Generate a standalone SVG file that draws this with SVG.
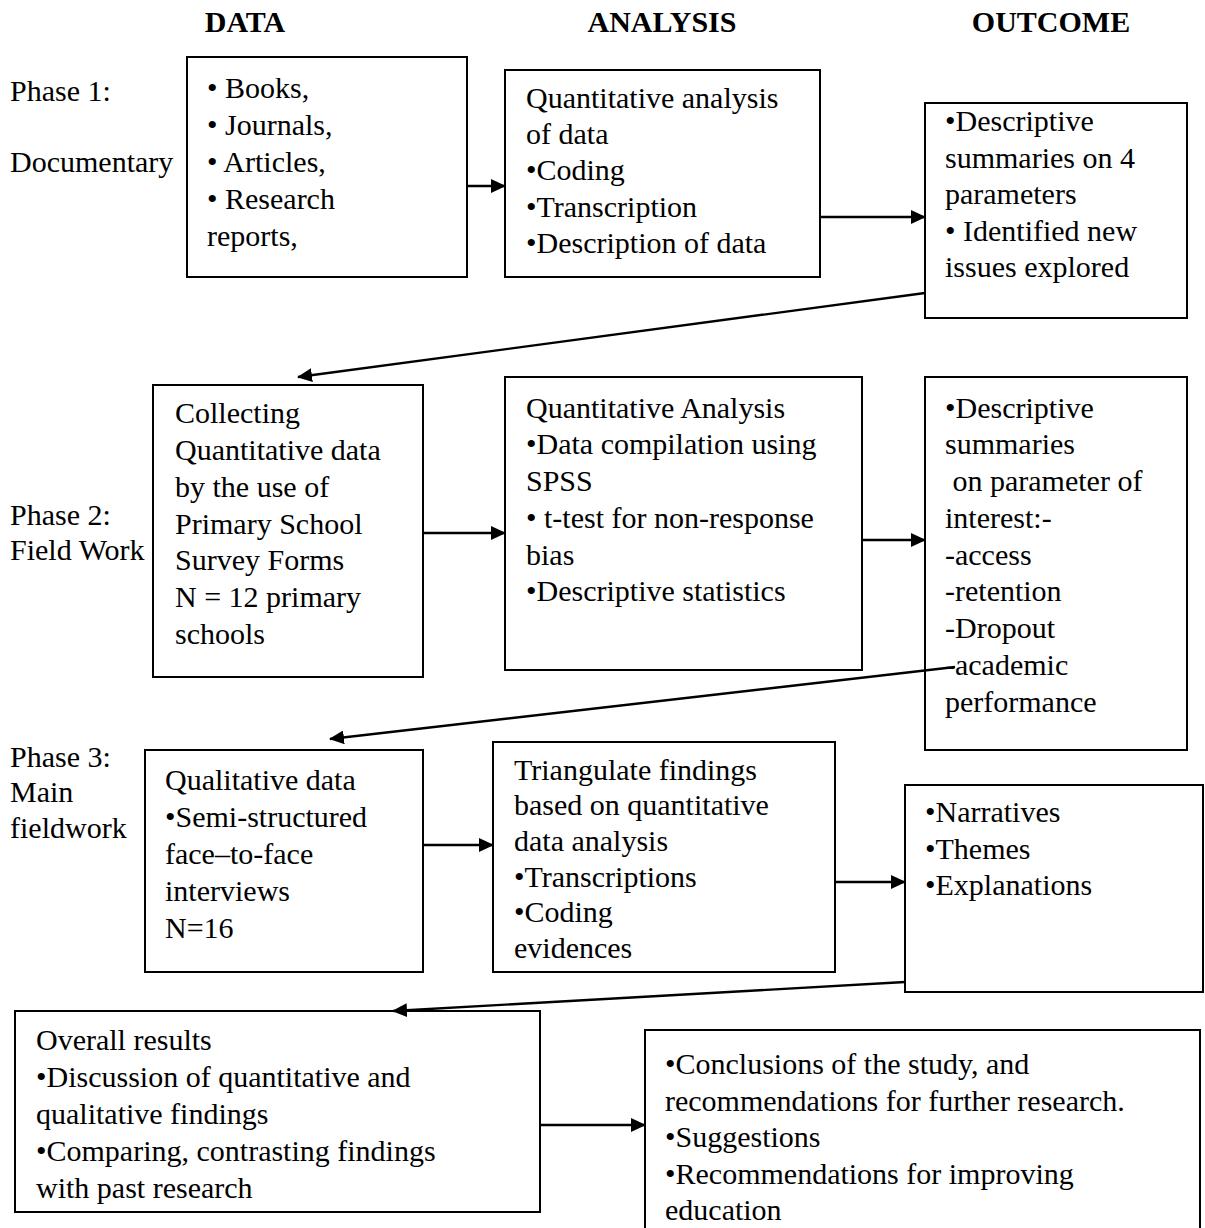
<svg xmlns="http://www.w3.org/2000/svg" width="1205" height="1228" viewBox="0 0 1205 1228">
<defs>
<style>
text{font-family:"Liberation Serif","Times New Roman",serif;font-size:30px;fill:#000}
.h{font-weight:bold;text-anchor:middle}
.box{fill:#fff;stroke:#000;stroke-width:2}
.c{fill:none;stroke:#000;stroke-width:2.4}
</style>
<marker id="ah" markerWidth="15" markerHeight="14" refX="14" refY="7" orient="auto" markerUnits="userSpaceOnUse" viewBox="0 0 15 14">
<path d="M0,0 L15,7 L0,14 z" fill="#000"/>
</marker>
</defs>
<rect width="1205" height="1228" fill="#fff"/>
<g id="headers">
<text class="h" x="245" y="32">DATA</text>
<text class="h" x="662" y="32">ANALYSIS</text>
<text class="h" x="1051" y="32">OUTCOME</text>
</g>
<g id="phase-labels">
<text x="10" y="101">Phase 1:</text>
<text x="10" y="172">Documentary</text>
<text x="10" y="525">Phase 2:</text>
<text x="10" y="560">Field Work</text>
<text x="10" y="767">Phase 3:</text>
<text x="10" y="802">Main</text>
<text x="10" y="838">fieldwork</text>
</g>
<g id="n1">
<rect class="box" x="187" y="57" width="280" height="220"/>
<text x="207" y="98">• Books,</text>
<text x="207" y="135">• Journals,</text>
<text x="207" y="172">• Articles,</text>
<text x="207" y="209">• Research</text>
<text x="207" y="246">reports,</text>
</g>
<g id="n2">
<rect class="box" x="505" y="70" width="315" height="207"/>
<text x="526" y="108">Quantitative analysis</text>
<text x="526" y="144">of data</text>
<text x="526" y="180">•Coding</text>
<text x="526" y="217">•Transcription</text>
<text x="526" y="253">•Description of data</text>
</g>
<g id="n3">
<rect class="box" x="925" y="103" width="262" height="215"/>
<text x="945" y="131">•Descriptive</text>
<text x="945" y="168">summaries on 4</text>
<text x="945" y="204">parameters</text>
<text x="945" y="241">• Identified new</text>
<text x="945" y="277">issues explored</text>
</g>
<g id="n4">
<rect class="box" x="153" y="385" width="270" height="292"/>
<text x="175" y="423">Collecting</text>
<text x="175" y="460">Quantitative data</text>
<text x="175" y="497">by the use of</text>
<text x="175" y="534">Primary School</text>
<text x="175" y="570">Survey Forms</text>
<text x="175" y="607">N = 12 primary</text>
<text x="175" y="644">schools</text>
</g>
<g id="n5">
<rect class="box" x="505" y="377" width="357" height="293"/>
<text x="526" y="418">Quantitative Analysis</text>
<text x="526" y="454">•Data compilation using</text>
<text x="526" y="491">SPSS</text>
<text x="526" y="528">• t-test for non-response</text>
<text x="526" y="565">bias</text>
<text x="526" y="601">•Descriptive statistics</text>
</g>
<g id="n6">
<rect class="box" x="925" y="377" width="262" height="373"/>
<text x="945" y="418">•Descriptive</text>
<text x="945" y="454">summaries</text>
<text x="945" y="491" xml:space="preserve"> on parameter of</text>
<text x="945" y="528">interest:-</text>
<text x="945" y="565">-access</text>
<text x="945" y="601">-retention</text>
<text x="945" y="638">-Dropout</text>
<text x="945" y="675">-academic</text>
<text x="945" y="712">performance</text>
</g>
<g id="n7">
<rect class="box" x="145" y="750" width="278" height="222"/>
<text x="165" y="790">Qualitative data</text>
<text x="165" y="827">•Semi-structured</text>
<text x="165" y="864">face–to-face</text>
<text x="165" y="901">interviews</text>
<text x="165" y="938">N=16</text>
</g>
<g id="n8">
<rect class="box" x="493" y="742" width="342" height="230"/>
<text x="514" y="780">Triangulate findings</text>
<text x="514" y="815">based on quantitative</text>
<text x="514" y="851">data analysis</text>
<text x="514" y="887">•Transcriptions</text>
<text x="514" y="922">•Coding</text>
<text x="514" y="958">evidences</text>
</g>
<g id="n9">
<rect class="box" x="905" y="785" width="298" height="207"/>
<text x="925" y="822">•Narratives</text>
<text x="925" y="859">•Themes</text>
<text x="925" y="895">•Explanations</text>
</g>
<g id="n10">
<rect class="box" x="15" y="1011" width="525" height="201"/>
<text x="36" y="1050">Overall results</text>
<text x="36" y="1087">•Discussion of quantitative and</text>
<text x="36" y="1124">qualitative findings</text>
<text x="36" y="1161">•Comparing, contrasting findings</text>
<text x="36" y="1198">with past research</text>
</g>
<g id="n11">
<rect class="box" x="645" y="1030" width="555" height="210"/>
<text x="665" y="1074">•Conclusions of the study, and</text>
<text x="665" y="1111">recommendations for further research.</text>
<text x="665" y="1147">•Suggestions</text>
<text x="665" y="1184">•Recommendations for improving</text>
<text x="665" y="1220">education</text>
</g>
<g id="connectors">
<line class="c" x1="467" y1="186" x2="505" y2="186" marker-end="url(#ah)"/>
<line class="c" x1="820" y1="217" x2="925" y2="217" marker-end="url(#ah)"/>
<line class="c" x1="925" y1="293" x2="298" y2="377" marker-end="url(#ah)"/>
<line class="c" x1="423" y1="533" x2="505" y2="533" marker-end="url(#ah)"/>
<line class="c" x1="862" y1="540" x2="925" y2="540" marker-end="url(#ah)"/>
<line class="c" x1="955" y1="667" x2="330" y2="739" marker-end="url(#ah)"/>
<line class="c" x1="423" y1="845" x2="493" y2="845" marker-end="url(#ah)"/>
<line class="c" x1="835" y1="882" x2="905" y2="882" marker-end="url(#ah)"/>
<line class="c" x1="905" y1="982" x2="393" y2="1011" marker-end="url(#ah)"/>
<line class="c" x1="540" y1="1125" x2="645" y2="1125" marker-end="url(#ah)"/>
</g>
</svg>
